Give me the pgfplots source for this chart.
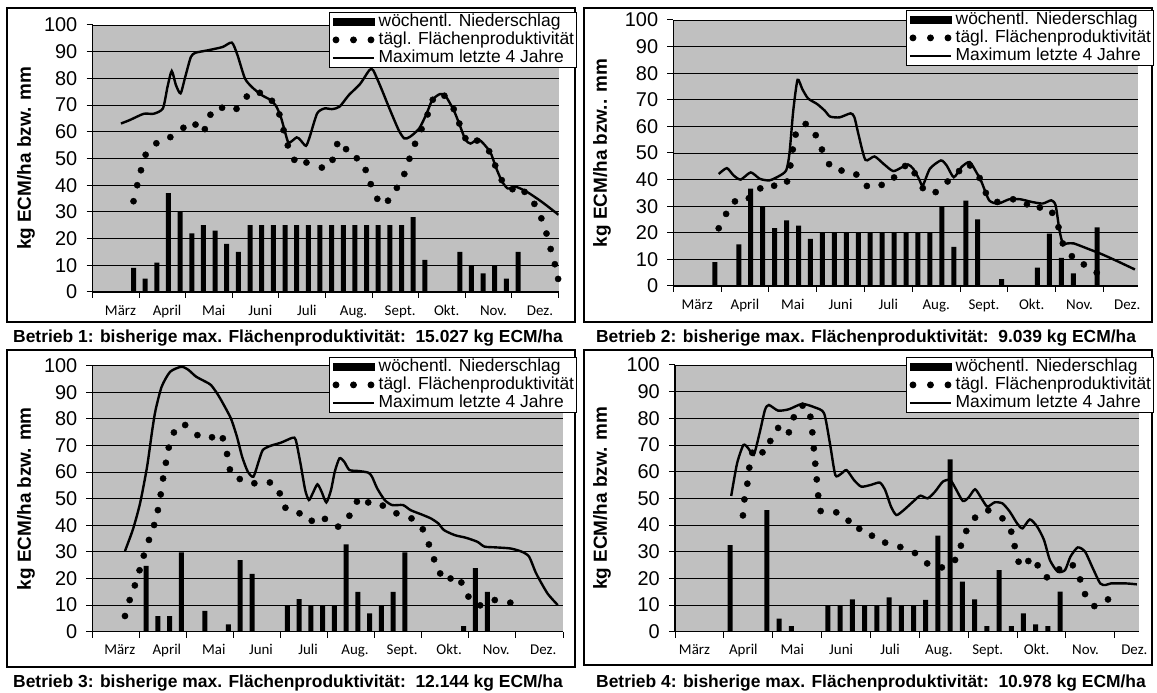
\documentclass[border=0pt]{standalone}
\usepackage{fontspec}
\setmainfont{Liberation Sans}
\newfontfamily\calfont{Carlito}
\usepackage{pgfplots}
\pgfplotsset{compat=1.18}
\definecolor{chartgray}{RGB}{192,192,192}
\pgfplotsset{
  panel/.style={
    scale only axis, anchor=south west,
    xmin=0, ymin=0, ymax=100,
    ytick={0,10,...,100},
    xtick={0,...,10},
    xticklabels={März,April,Mai,Juni,Juli,Aug.,Sept.,Okt.,Nov.,Dez.,{}},
    axis background/.style={fill=chartgray},
    axis x line*=bottom, axis y line*=left,
    axis line style={line width=1.2bp},
    ymajorgrids, major grid style={line width=0.9bp, black},
    tick align=outside, major tick length=6bp,
    tick style={line width=1bp, black},
    /pgf/number format/assume math mode=true,
    yticklabel style={font=\fontsize{20}{20}\selectfont, inner sep=0pt, xshift=-9bp},
    xticklabel style={font=\calfont\fontsize{15}{15}\selectfont, inner sep=0pt, anchor=north, text height=10.5bp, text depth=3bp, yshift=-6.5bp},
    ylabel style={font=\bfseries\fontsize{19}{19}\selectfont, anchor=center},
    legend style={draw=black, line width=0.8bp, fill=white, anchor=north east,
      font=\fontsize{17.5}{17.5}\selectfont, inner xsep=2bp, inner ysep=0.5bp,
      row sep=0pt, cells={anchor=west},
      nodes={inner sep=0.5bp, text height=13bp, text depth=4bp},
      /tikz/every odd column/.append style={column sep=3bp}},
    legend cell align=left,
    clip mode=individual,
  },
  bars/.style={ybar, bar width=5bp, bar shift=0pt, fill=black, draw=none, forget plot},
  dots/.style={only marks, mark=*, mark size=3.1bp, black, forget plot},
  maxline/.style={line width=2.4bp, black, smooth, tension=0.4, no marks, forget plot},
}
\newcommand{\mylegend}{%
  \addlegendimage{legend image code/.code={\fill[black] (0bp,-3.5bp) rectangle (41bp,3.5bp);}}
  \addlegendentry{wöchentl. Niederschlag}
  \addlegendimage{legend image code/.code={\fill[black] (3bp,0bp) circle[radius=3bp] (20.5bp,0bp) circle[radius=3bp] (38bp,0bp) circle[radius=3bp];}}
  \addlegendentry{tägl. Flächenproduktivität}
  \addlegendimage{legend image code/.code={\draw[black,line width=2.4bp] (0bp,0bp) -- (41bp,0bp);}}
  \addlegendentry{Maximum letzte 4 Jahre}%
}
\begin{document}
\begin{tikzpicture}
\path[use as bounding box] (0bp,0bp) rectangle (1157bp,693bp);
\draw[line width=1.5bp] (7bp,371bp) rectangle (575bp,685bp);
\draw[line width=1.5bp] (584bp,371bp) rectangle (1152bp,685bp);
\draw[line width=1.5bp] (7bp,26bp) rectangle (575bp,343bp);
\draw[line width=1.5bp] (584bp,28bp) rectangle (1152bp,343bp);

% ---------------- Betrieb 1
\begin{axis}[panel, at={(92.5bp,401bp)}, width=466.1bp, height=267bp, xmax=10,
  xticklabel style={xshift=28bp},
  ylabel={kg ECM/ha bzw. mm}, ylabel style={at={(axis description cs:-0.1427,0.5)}},
  legend style={at={(axis description cs:1.0395,1.0487)}}]
\addplot[bars] coordinates {(0.88,9)(1.13,5)(1.38,11)(1.63,37)(1.88,30)(2.13,22)(2.38,25)(2.63,23)(2.88,18)(3.13,15)(3.38,25)(3.63,25)(3.88,25)(4.13,25)(4.38,25)(4.63,25)(4.88,25)(5.13,25)(5.38,25)(5.63,25)(5.88,25)(6.13,25)(6.38,25)(6.63,25)(6.88,28)(7.13,12)(7.88,15)(8.13,10)(8.38,7)(8.63,10)(8.88,5)(9.13,15)};
\addplot[maxline] coordinates {(0.61,63.1)(0.80,64.4)(1.10,66.75)(1.31,66.75)(1.51,68.75)(1.61,76.9)(1.70,82.75)(1.79,77.5)(1.89,74.4)(1.99,80.6)(2.11,88)(2.21,89.6)(2.47,90.5)(2.79,91.75)(2.99,93.4)(3.11,88.75)(3.27,80)(3.43,76.6)(3.63,73.75)(3.82,71.9)(3.94,69.6)(4.04,65.6)(4.13,60)(4.21,55.9)(4.38,57.9)(4.46,56.9)(4.58,54.75)(4.66,58.1)(4.82,66.9)(4.98,68.75)(5.14,68.5)(5.30,69.4)(5.50,73.75)(5.74,77.9)(5.94,83.1)(6.02,83.1)(6.18,76.9)(6.37,68.75)(6.57,60.6)(6.69,57.5)(6.81,58.1)(7.01,61.25)(7.17,66.9)(7.29,71.9)(7.45,74.1)(7.57,73.5)(7.75,68.1)(7.87,62.9)(8.00,57.1)(8.11,55.6)(8.29,57.1)(8.53,52.5)(8.65,46.9)(8.78,41.6)(8.91,38.75)(9.08,39.4)(9.32,37.5)(9.64,33.75)(10.0,28.9)};
\addplot[dots] coordinates {(0.88,34)(0.96,40)(1.04,45.6)(1.14,51.4)(1.37,55.7)(1.67,58)(1.95,61.5)(2.21,62.7)(2.41,61)(2.53,66.4)(2.78,69)(3.09,68.6)(3.31,73.2)(3.59,74.6)(3.85,71.6)(4.01,66.5)(4.10,60.6)(4.19,54.9)(4.33,49.5)(4.59,48.5)(4.92,46.6)(5.15,49.5)(5.25,55.4)(5.44,53.5)(5.67,50.1)(5.86,45.7)(5.97,40.4)(6.11,34.9)(6.34,34.2)(6.53,39)(6.69,44.2)(6.80,49.9)(6.92,55.5)(7.06,61)(7.19,66.5)(7.30,72)(7.55,73.5)(7.75,68.5)(7.87,63.1)(8.00,57.6)(8.25,56.7)(8.51,52.7)(8.64,47.4)(8.78,41.9)(9.01,38.5)(9.27,37.5)(9.48,33)(9.63,27.6)(9.74,21.9)(9.83,16.1)(9.92,10.4)(9.99,4.9)};
\mylegend
\end{axis}

% ---------------- Betrieb 2
\begin{axis}[panel, at={(673.3bp,407bp)}, width=465bp, height=266bp, xmax=9.73,
  xticklabel style={xshift=23.9bp},
  ylabel={kg ECM/ha bzw.. mm}, ylabel style={at={(axis description cs:-0.1533,0.5)}},
  legend style={at={(axis description cs:1.0338,1.0376)}}]
\addplot[bars] coordinates {(0.87,9)(1.37,15.6)(1.62,36.6)(1.87,29.7)(2.12,21.8)(2.37,24.7)(2.62,22.7)(2.87,17.7)(3.12,20)(3.37,20)(3.62,20)(3.87,20)(4.12,20)(4.37,20)(4.62,20)(4.87,20)(5.12,20)(5.37,20)(5.62,29.8)(5.87,14.7)(6.12,32.1)(6.37,25)(6.87,2.6)(7.62,6.9)(7.87,19.7)(8.12,10.6)(8.37,4.7)(8.87,22)};
\addplot[maxline] coordinates {(0.95,42.1)(1.12,44.3)(1.26,41.6)(1.41,40)(1.62,42.7)(1.81,40.3)(2.01,39.7)(2.20,41.2)(2.36,43.4)(2.43,49.7)(2.51,65.9)(2.60,77.5)(2.70,74)(2.82,70.5)(3.01,68.4)(3.17,65.9)(3.28,63.7)(3.48,63.4)(3.71,64.9)(3.79,63.4)(3.88,56.6)(4.02,47.4)(4.21,48.7)(4.40,45.9)(4.60,43.2)(4.79,44.7)(4.91,45.7)(5.02,44.1)(5.14,40.3)(5.22,37.8)(5.37,44.1)(5.60,47.2)(5.72,45.3)(5.87,40.9)(6.03,44.7)(6.20,46.6)(6.34,42.8)(6.45,39.1)(6.61,32.2)(6.80,31)(7.03,32.6)(7.26,32.6)(7.50,31.6)(7.73,31)(7.91,32.2)(8.00,30.3)(8.08,21)(8.15,16)(8.25,16)(8.38,16)(8.66,14.1)(8.96,12)(9.27,9.5)(9.66,6.2)};
\addplot[dots] coordinates {(0.95,21.7)(1.105,27.1)(1.29,31.8)(1.58,33)(1.82,36.7)(2.11,37.7)(2.38,39.3)(2.45,45.3)(2.50,51.3)(2.56,56.9)(2.77,60.9)(2.98,56.7)(3.11,51.3)(3.26,45.8)(3.52,43.4)(3.83,41.9)(4.05,37.6)(4.36,38)(4.62,40.8)(4.85,45.1)(5.05,42.4)(5.22,36.8)(5.49,35.3)(5.74,39.3)(5.98,43.2)(6.21,45.3)(6.41,40.6)(6.54,35)(6.78,31.6)(7.11,32.6)(7.40,30.7)(7.67,29.5)(7.93,27.5)(8.06,22.1)(8.15,16)(8.34,11.2)(8.59,8.1)(8.86,5)};
\mylegend
\end{axis}

% ---------------- Betrieb 3
\begin{axis}[panel, at={(92.5bp,61.3bp)}, width=470.5bp, height=266bp, xmax=10,
  xticklabel style={xshift=27.3bp},
  ylabel={kg ECM/ha bzw. mm}, ylabel style={at={(axis description cs:-0.1413,0.5)}},
  legend style={at={(axis description cs:1.0298,1.0327)}}]
\addplot[bars] coordinates {(1.14,24.7)(1.39,5.9)(1.64,5.9)(1.89,29.8)(2.39,7.8)(2.89,2.8)(3.14,26.9)(3.39,21.7)(4.14,9.9)(4.39,12.2)(4.64,9.9)(4.89,9.9)(5.14,9.9)(5.39,32.8)(5.64,15)(5.89,6.9)(6.14,9.9)(6.39,15)(6.64,29.8)(7.89,2.1)(8.14,23.9)(8.39,15)};
\addplot[maxline] coordinates {(0.69,30.3)(0.86,38.5)(1.01,48.2)(1.16,62)(1.27,75.8)(1.34,83.3)(1.47,92.1)(1.65,97.7)(1.89,99.6)(2.04,98.4)(2.20,95.9)(2.40,94)(2.52,92.7)(2.67,89)(2.83,84)(2.95,79.8)(3.07,73.3)(3.18,65.8)(3.30,60.2)(3.42,58.3)(3.54,64.5)(3.62,68.3)(3.77,69.8)(4.01,71.1)(4.25,72.9)(4.32,72.1)(4.42,63.3)(4.52,53.3)(4.60,49.5)(4.68,52)(4.78,55.4)(4.87,52.6)(4.97,48.6)(5.07,53.3)(5.15,60.2)(5.25,65.2)(5.35,63.9)(5.46,60.8)(5.66,60.4)(5.86,59.8)(5.94,58.3)(6.05,53.9)(6.21,49.5)(6.37,47.6)(6.60,47.6)(6.76,45.7)(6.99,44.1)(7.19,42.6)(7.35,40.7)(7.47,38.2)(7.70,36.3)(7.94,35.3)(8.18,33.8)(8.33,32)(8.57,31.7)(8.88,31.3)(9.12,30.1)(9.28,28.2)(9.43,21.9)(9.67,14.4)(9.89,10)};
\addplot[dots] coordinates {(0.69,5.9)(0.79,11.9)(0.90,17.4)(1.00,23.1)(1.09,28.6)(1.20,34.5)(1.31,40.1)(1.39,45.7)(1.45,51.6)(1.50,57.6)(1.56,63.5)(1.62,69.2)(1.73,74.9)(1.97,77.7)(2.23,73.9)(2.54,73.1)(2.77,72.7)(2.86,66.8)(2.92,61)(3.13,57.4)(3.44,55.8)(3.77,56.1)(3.98,52)(4.10,46.6)(4.40,44.5)(4.66,41.7)(4.94,42.4)(5.22,39.5)(5.46,43.6)(5.62,48.9)(5.86,48.6)(6.17,47.4)(6.46,44.5)(6.78,42.6)(7.02,38.5)(7.15,32.8)(7.26,27.2)(7.39,21.9)(7.61,20)(7.84,18.5)(7.99,13.2)(8.24,9.9)(8.55,11.9)(8.88,10.9)};
\mylegend
\end{axis}

% ---------------- Betrieb 4
\begin{axis}[panel, at={(675bp,61.3bp)}, width=464.3bp, height=266.7bp, xmax=9.5,
  xticklabel style={xshift=19.5bp},
  ylabel={kg ECM/ha bzw. mm}, ylabel style={at={(axis description cs:-0.1572,0.5)}},
  legend style={at={(axis description cs:1.0317,1.030)}}]
\addplot[bars] coordinates {(1.13,32.5)(1.88,45.6)(2.13,4.9)(2.38,2.1)(3.13,9.9)(3.38,9.9)(3.63,12.1)(3.88,9.9)(4.13,9.9)(4.38,12.9)(4.63,9.9)(4.88,9.9)(5.13,11.9)(5.38,36)(5.63,64.6)(5.88,18.75)(6.13,12.1)(6.38,2.1)(6.63,23.1)(6.88,2.1)(7.13,6.9)(7.38,2.75)(7.63,2.1)(7.88,15)};
\addplot[maxline] coordinates {(1.15,50.9)(1.27,63.1)(1.40,70)(1.50,68.75)(1.61,66.25)(1.73,74.4)(1.84,83.1)(1.92,85)(2.11,82.9)(2.33,83.4)(2.60,85.4)(2.86,84.1)(3.05,81.9)(3.17,70.6)(3.28,58.75)(3.39,59.1)(3.51,60.6)(3.66,56.9)(3.81,54.4)(4.00,55)(4.19,55.9)(4.30,53.1)(4.42,46.9)(4.53,43.75)(4.68,45.6)(4.87,48.75)(5.02,51)(5.17,50)(5.32,52.5)(5.48,56.25)(5.63,56.9)(5.74,53.75)(5.89,49)(6.01,50.4)(6.14,53.4)(6.27,50)(6.39,46.9)(6.54,48.5)(6.70,48.1)(6.85,45)(7.00,40.6)(7.11,38.75)(7.26,42.1)(7.41,39.4)(7.55,34.4)(7.67,26.9)(7.83,22.5)(7.98,23.1)(8.09,28.1)(8.24,31.6)(8.39,30)(8.55,23.75)(8.70,18.1)(8.81,17.5)(8.92,18.1)(9.23,18.1)(9.45,17.75)};
\addplot[dots] coordinates {(1.39,43.6)(1.42,49.6)(1.48,55.5)(1.52,61.5)(1.58,67.1)(1.79,67.25)(1.95,71.5)(2.11,76.4)(2.33,74.75)(2.43,80.4)(2.61,84.75)(2.77,80.6)(2.81,74.75)(2.84,68.75)(2.87,63)(2.90,57.1)(2.93,51.1)(2.98,45.25)(3.30,44.75)(3.55,41.6)(3.77,38.6)(4.03,36)(4.30,33.4)(4.61,31.75)(4.91,29.5)(5.16,25.6)(5.46,24.1)(5.73,26.9)(5.85,32.25)(5.96,37.75)(6.14,42.75)(6.41,45.5)(6.70,42.5)(6.88,37.5)(6.95,32.1)(7.03,26.25)(7.23,26.5)(7.42,24.9)(7.61,20.4)(7.86,23.4)(8.14,24.9)(8.29,19.6)(8.39,14.1)(8.58,9.6)(8.86,12.1)};
\mylegend
\end{axis}

\node[font=\bfseries\fontsize{17.5}{17.5}\selectfont] at (288bp,355bp) {Betrieb 1: bisherige max. Flächenproduktivität:\ \ 15.027 kg ECM/ha};
\node[font=\bfseries\fontsize{17.5}{17.5}\selectfont] at (866bp,355bp) {Betrieb 2: bisherige max. Flächenproduktivität:\ \ 9.039 kg ECM/ha};
\node[font=\bfseries\fontsize{17.5}{17.5}\selectfont] at (288bp,10bp) {Betrieb 3: bisherige max. Flächenproduktivität:\ \ 12.144 kg ECM/ha};
\node[font=\bfseries\fontsize{17.5}{17.5}\selectfont] at (871bp,10bp) {Betrieb 4: bisherige max. Flächenproduktivität:\ \ 10.978 kg ECM/ha};
\end{tikzpicture}
\end{document}
